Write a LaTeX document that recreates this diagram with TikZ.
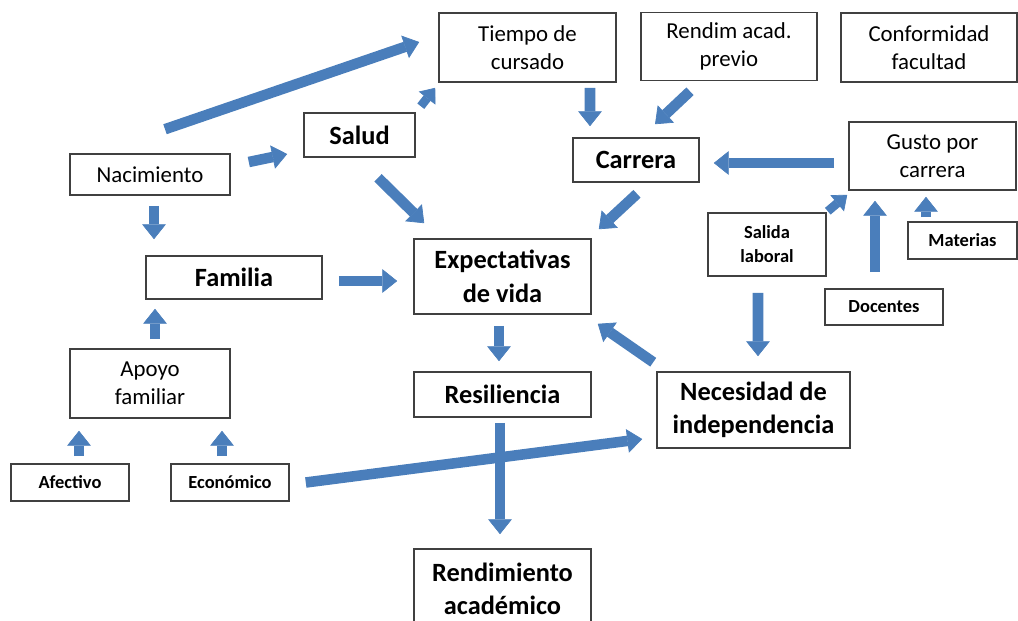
\documentclass[tikz,border=0pt]{standalone}
\usepackage{fontspec}
\setmainfont{Carlito}
\usepackage{xcolor}
\usepackage{tikz}
\usetikzlibrary{arrows.meta}

\definecolor{arrowblue}{HTML}{4A7EBB}

\tikzset{
    box/.style = {rectangle,
                  draw = black!75,
                  line width = 0.9pt,
                  inner sep = 0pt,
                  align = center},
    plaintxt/.style = {font = \fontsize{13}{15.8}\selectfont},
    boldtxt/.style = {font = \fontsize{15}{19}\selectfont\bfseries},
    smalltxt/.style = {font = \fontsize{10.5}{13.6}\selectfont\bfseries},
    blockarrow/.style = {draw,
                         color = arrowblue,
                         line width = 6pt,
                         -{Triangle[width=13.5pt,length=8.5pt,line width=0.4pt]}},
    tinyarrow/.style = {draw,
                        color = arrowblue,
                        line width = 5pt,
                        -{Triangle[width=12pt,length=7.5pt,line width=0.4pt]}}
}

\begin{document}
\begin{tikzpicture}[x=0.02cm, y=-0.02cm]

    \useasboundingbox (0,0) rectangle (1018,620);

    % top row
    \node[box, plaintxt,
          minimum width = 3.54cm,
          minimum height = 1.38cm
          ] (tiempo) at (527.5,47.5) {Tiempo de\\cursado};

    \node[box, plaintxt,
          minimum width = 3.52cm,
          minimum height = 1.36cm
          ] (rendim) at (729,46.5) {Rendim acad.\\previo};

    \node[box, plaintxt,
          minimum width = 3.52cm,
          minimum height = 1.38cm
          ] (conform) at (929,47.5) {Conformidad\\facultad};

    % left side
    \node[box, plaintxt,
          minimum width = 3.2cm,
          minimum height = 0.82cm
          ] (nacim) at (150,174.5) {Nacimiento};

    \node[box, boldtxt,
          minimum width = 2.22cm,
          minimum height = 0.88cm
          ] (salud) at (359.5,135) {Salud};

    \node[box, boldtxt,
          minimum width = 3.52cm,
          minimum height = 0.86cm
          ] (familia) at (234,277.5) {Familia};

    \node[box, plaintxt,
          minimum width = 3.2cm,
          minimum height = 1.38cm
          ] (apoyo) at (150,383.5) {Apoyo\\familiar};

    \node[box, smalltxt,
          minimum width = 2.36cm,
          minimum height = 0.74cm
          ] (afectivo) at (70,482.5) {Afectivo};

    \node[box, smalltxt,
          minimum width = 2.36cm,
          minimum height = 0.74cm
          ] (economico) at (230,482.5) {Económico};

    % centre column
    \node[box, boldtxt,
          minimum width = 3.54cm,
          minimum height = 1.5cm
          ] (expect) at (502.5,276.5) {Expectativas\\de vida};

    \node[box, boldtxt,
          minimum width = 3.54cm,
          minimum height = 0.9cm
          ] (resil) at (502.5,394.5) {Resiliencia};

    \node[box, boldtxt,
          minimum width = 3.54cm,
          minimum height = 1.6cm
          ] (rendac) at (502.5,589) {Rendimiento\\académico};

    \node[box, boldtxt,
          minimum width = 2.52cm,
          minimum height = 0.88cm
          ] (carrera) at (636,160) {Carrera};

    % right side
    \node[box, plaintxt,
          minimum width = 3.34cm,
          minimum height = 1.36cm
          ] (gusto) at (932.5,156) {Gusto por\\carrera};

    \node[box, smalltxt,
          minimum width = 2.36cm,
          minimum height = 1.26cm
          ] (salida) at (767,244.5) {Salida\\laboral};

    \node[box, smalltxt,
          minimum width = 2.18cm,
          minimum height = 0.74cm
          ] (materias) at (962.5,240.5) {Materias};

    \node[box, smalltxt,
          minimum width = 2.36cm,
          minimum height = 0.72cm
          ] (docentes) at (884,307) {Docentes};

    \node[box, boldtxt,
          minimum width = 3.86cm,
          minimum height = 1.52cm
          ] (necesid) at (753.5,410) {Necesidad de\\independencia};

    \path[every edge/.style={blockarrow}]
    %left side paths
    ([shift={(15,-24)}]nacim.north) edge ([shift={(-19,-5.5)}]tiempo.west)
    ([shift={(18,-12.5)}]nacim.east) edge ([shift={(-16,19)}]salud.west)
    ([shift={(18.5,20)}]salud.south) edge ([shift={(11,-15)}]expect.north west)
    ([shift={(4,10)}]nacim.south) edge ([shift={(-80,-16)}]familia.north)
    ([shift={(16,3.5)}]familia.east) edge ([shift={(-16,4.5)}]expect.west)
    ([shift={(5,-9)}]apoyo.north) edge ([shift={(-79,9)}]familia.south)
    ([shift={(9,-7)}]afectivo.north) edge ([shift={(-71,12)}]apoyo.south)
    ([shift={(-8,-7)}]economico.north) edge ([shift={(72,12)}]apoyo.south)
    ([shift={(16,0)}]economico.east) edge ([shift={(-14,29)}]necesid.west)
    %centre paths
    ([shift={(62.5,5)}]tiempo.south) edge ([shift={(-46,-11)}]carrera.north)
    ([shift={(-39,10)}]rendim.south) edge ([shift={(19,-13)}]carrera.north)
    ([shift={(-14,7)}]gusto.west) edge ([shift={(14,3)}]carrera.east)
    ([shift={(1,11)}]carrera.south) edge ([shift={(7,-9)}]expect.north east)
    ([shift={(-3.5,11)}]expect.south) edge ([shift={(-3.5,-10)}]resil.north)
    ([shift={(-3,-9)}]necesid.north west) edge ([shift={(6,9)}]expect.south east)
    ([shift={(-2.5,5)}]resil.south) edge ([shift={(-2.5,-14)}]rendac.north)
    %right side paths
    ([shift={(-9,-16)}]docentes.north) edge ([shift={(-57.5,10)}]gusto.south)
    ([shift={(-36.5,-4)}]materias.north) edge ([shift={(-6.5,6)}]gusto.south)
    ([shift={(-9,16)}]salida.south) edge ([shift={(4.5,-15)}]necesid.north);

    \path[every edge/.style={tinyarrow}]
    ([shift={(5,-6)}]salud.north east) edge ([shift={(-3,5)}]tiempo.south west)
    ([shift={(1,-1)}]salida.north east) edge ([shift={(-1,4)}]gusto.south west);

\end{tikzpicture}
\end{document}
